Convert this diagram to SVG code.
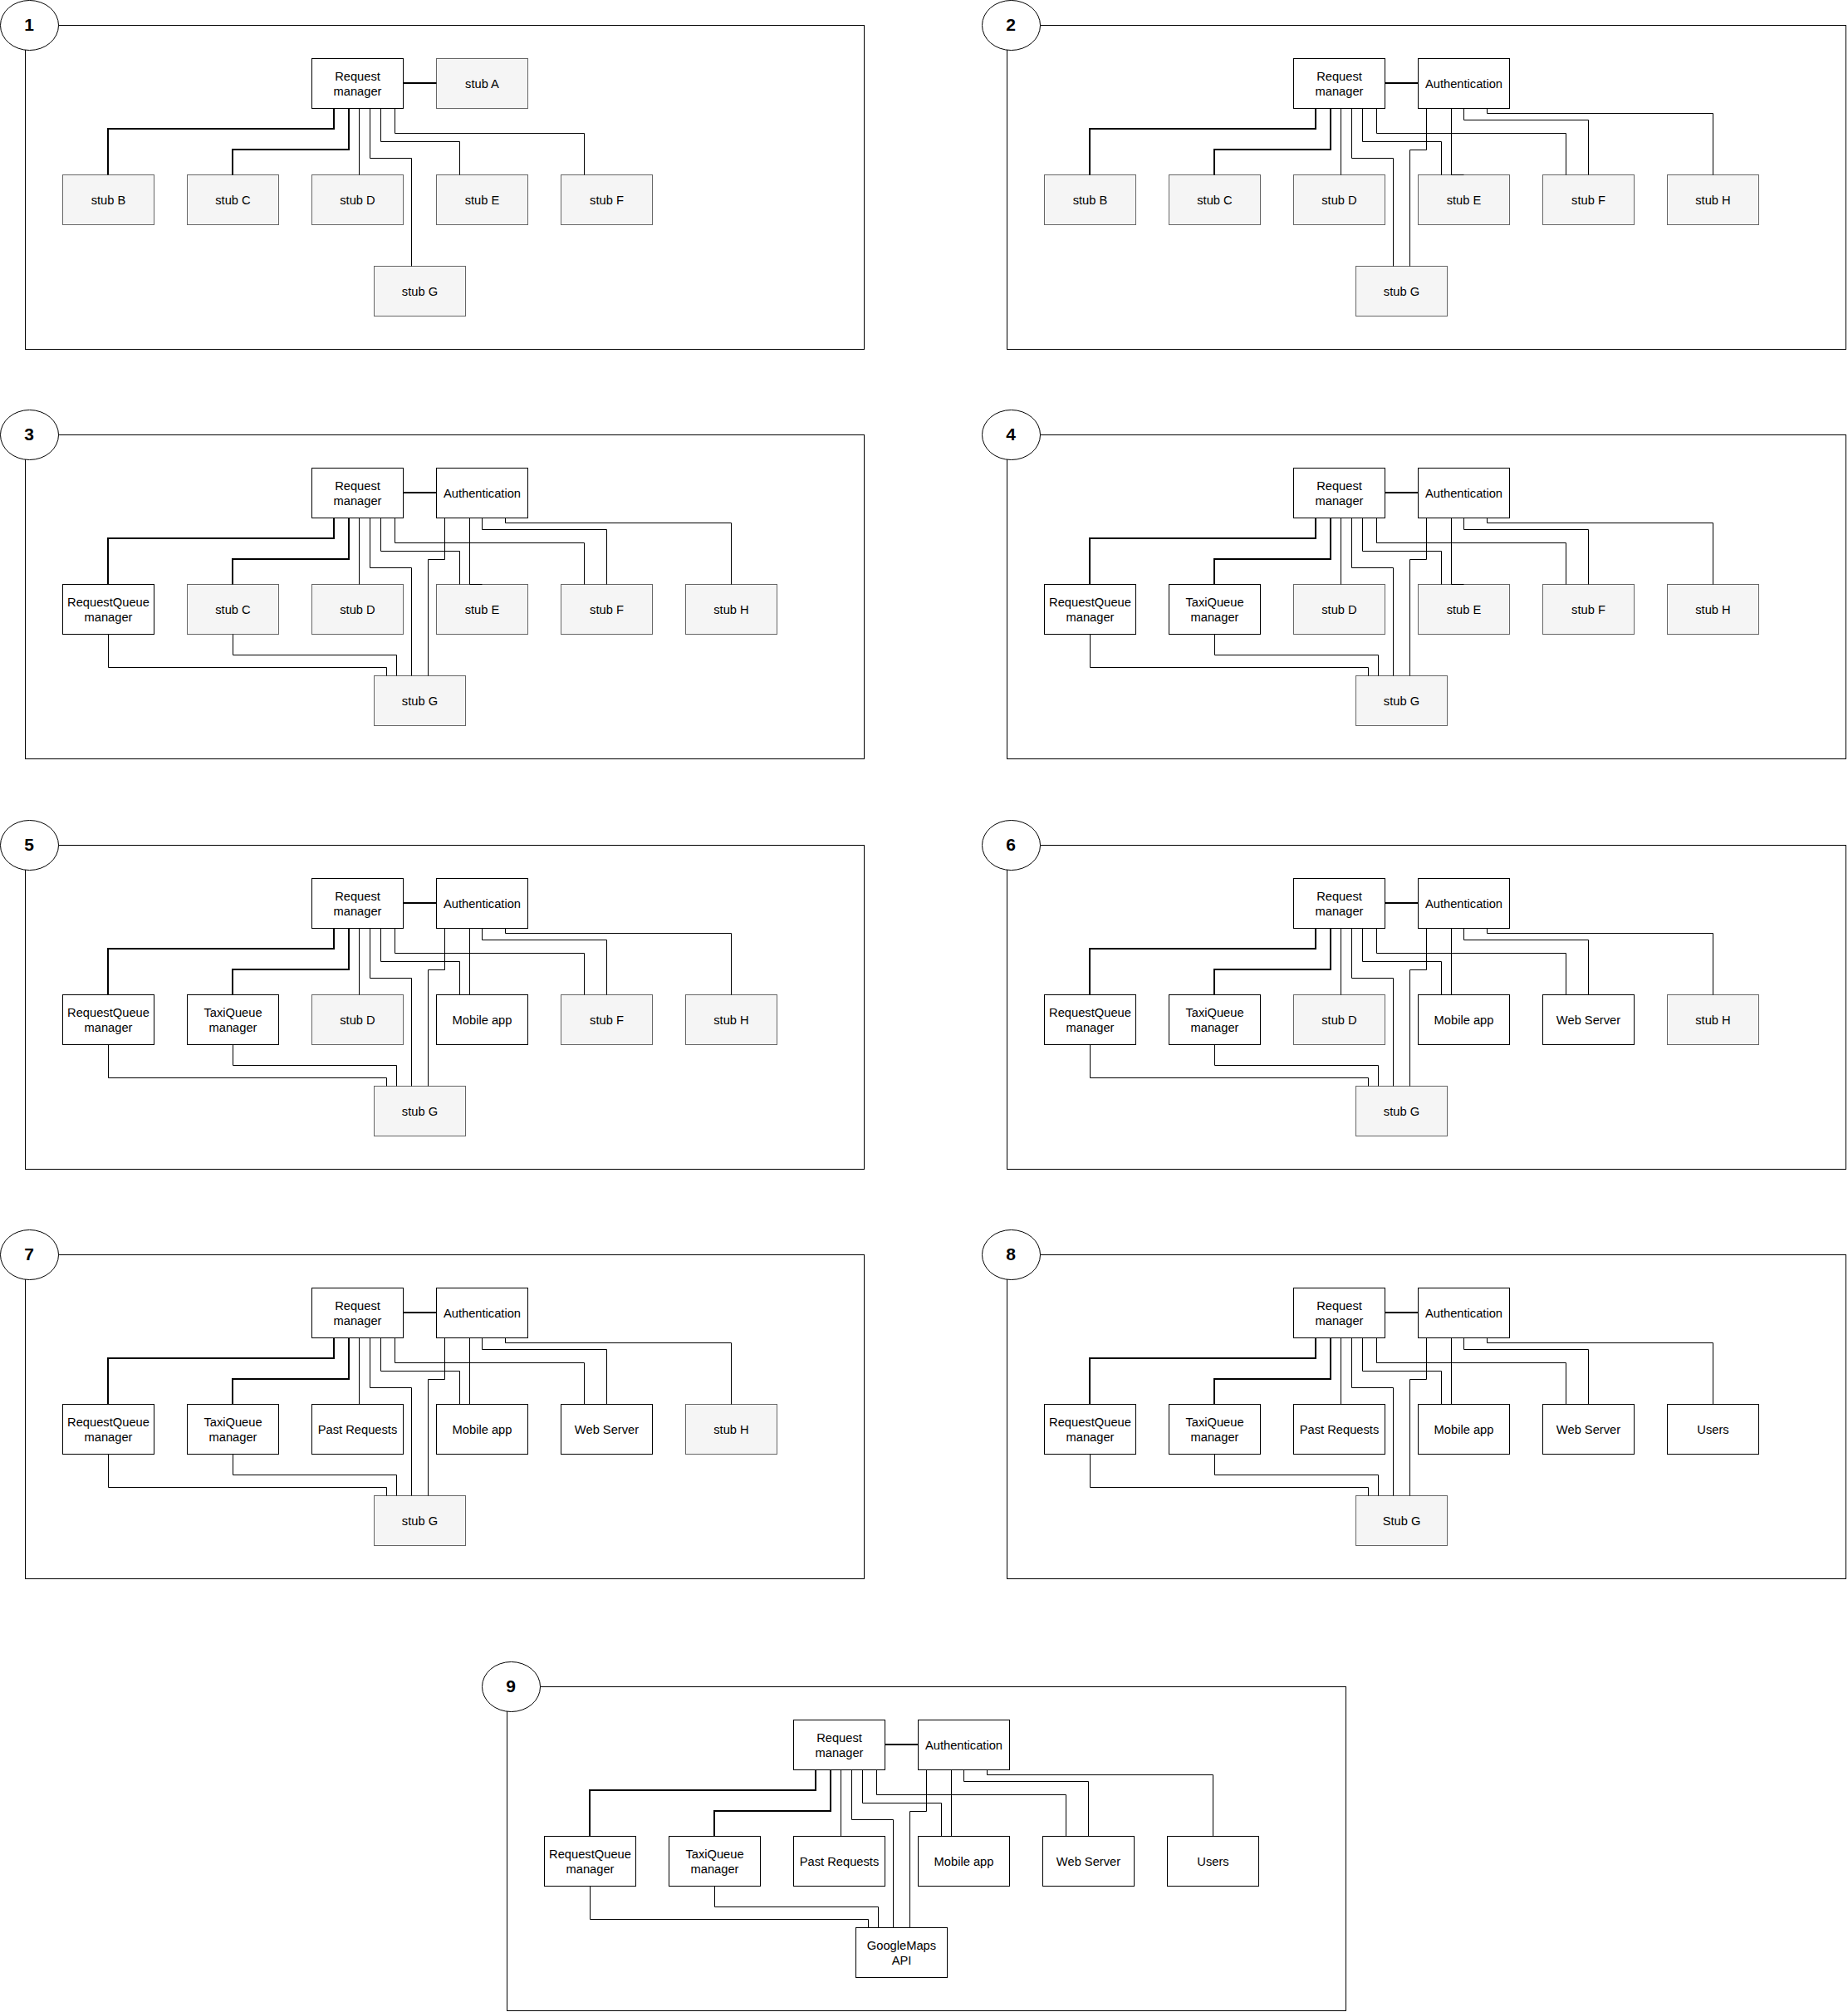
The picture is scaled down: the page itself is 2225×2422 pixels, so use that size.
<svg xmlns="http://www.w3.org/2000/svg" width="2225" height="2422" viewBox="0 0 2225 2422">
<style>
.bg{fill:#fff}
.frame{fill:none;stroke:#000;stroke-width:1}
.badge{fill:#fff;stroke:#000;stroke-width:1}
.badge-t{font-family:"Liberation Sans",Arial,sans-serif;font-weight:bold;font-size:21px;text-anchor:middle;fill:#000}
.n rect{fill:#fff;stroke:#000;stroke-width:1}
.s rect{fill:#f5f5f5;stroke:#666;stroke-width:1}
.n text,.s text{font-family:"Liberation Sans",Arial,sans-serif;font-size:14.7px;text-anchor:middle;fill:#000}
.c path{fill:none;stroke:#000;stroke-width:1}
.c path.k{stroke-width:2}
</style>
<rect class="bg" x="0" y="0" width="2225" height="2422"/>

<!-- Panel 1 -->
<g id="panel1" transform="translate(0,0)">
  <rect class="frame" x="30.5" y="30.5" width="1010" height="390"/>
  <g id="p1-label"><ellipse class="badge" cx="35.5" cy="30.5" rx="35" ry="30"/><text class="badge-t" x="35" y="37">1</text></g>
  <g id="p1-rm" class="n"><rect x="375.5" y="70.5" width="110" height="60"/><text x="430.5" y="96.5">Request</text><text x="430.5" y="114.5">manager</text></g>
  <g id="p1-stubA" class="s"><rect x="525.5" y="70.5" width="110" height="60"/><text x="580.5" y="105.7">stub A</text></g>
  <g id="p1-stubB" class="s"><rect x="75.5" y="210.5" width="110" height="60"/><text x="130.5" y="245.7">stub B</text></g>
  <g id="p1-stubC" class="s"><rect x="225.5" y="210.5" width="110" height="60"/><text x="280.5" y="245.7">stub C</text></g>
  <g id="p1-stubD" class="s"><rect x="375.5" y="210.5" width="110" height="60"/><text x="430.5" y="245.7">stub D</text></g>
  <g id="p1-stubE" class="s"><rect x="525.5" y="210.5" width="110" height="60"/><text x="580.5" y="245.7">stub E</text></g>
  <g id="p1-stubF" class="s"><rect x="675.5" y="210.5" width="110" height="60"/><text x="730.5" y="245.7">stub F</text></g>
  <g id="p1-stubG" class="s"><rect x="450.5" y="320.5" width="110" height="60"/><text x="505.5" y="355.7">stub G</text></g>
  <g id="p1-connectors" class="c">
    <path class="k" d="M485.5,100 H525.5"/>
    <path class="k" d="M402,130.5 V155 H130 V210.5"/>
    <path class="k" d="M420,130.5 V180 H280 V210.5"/>
    <path d="M432.5,130.5 V210.5"/>
    <path d="M445.5,130.5 V190.5 H495.5 V320.5"/>
    <path d="M458.5,130.5 V170.5 H553.5 V210.5"/>
    <path d="M475.5,130.5 V160.5 H703.5 V210.5"/>
  </g>
</g>

<!-- Panel 2 -->
<g id="panel2" transform="translate(1182,0)">
  <rect class="frame" x="30.5" y="30.5" width="1010" height="390"/>
  <g id="p2-label"><ellipse class="badge" cx="35.5" cy="30.5" rx="35" ry="30"/><text class="badge-t" x="35" y="37">2</text></g>
  <g id="p2-rm" class="n"><rect x="375.5" y="70.5" width="110" height="60"/><text x="430.5" y="96.5">Request</text><text x="430.5" y="114.5">manager</text></g>
  <g id="p2-auth" class="n"><rect x="525.5" y="70.5" width="110" height="60"/><text x="580.5" y="105.7">Authentication</text></g>
  <g id="p2-stubB" class="s"><rect x="75.5" y="210.5" width="110" height="60"/><text x="130.5" y="245.7">stub B</text></g>
  <g id="p2-stubC" class="s"><rect x="225.5" y="210.5" width="110" height="60"/><text x="280.5" y="245.7">stub C</text></g>
  <g id="p2-stubD" class="s"><rect x="375.5" y="210.5" width="110" height="60"/><text x="430.5" y="245.7">stub D</text></g>
  <g id="p2-stubE" class="s"><rect x="525.5" y="210.5" width="110" height="60"/><text x="580.5" y="245.7">stub E</text></g>
  <g id="p2-stubF" class="s"><rect x="675.5" y="210.5" width="110" height="60"/><text x="730.5" y="245.7">stub F</text></g>
  <g id="p2-stubH" class="s"><rect x="825.5" y="210.5" width="110" height="60"/><text x="880.5" y="245.7">stub H</text></g>
  <g id="p2-stubG" class="s"><rect x="450.5" y="320.5" width="110" height="60"/><text x="505.5" y="355.7">stub G</text></g>
  <g id="p2-connectors" class="c">
    <path class="k" d="M485.5,100 H525.5"/>
    <path class="k" d="M402,130.5 V155 H130 V210.5"/>
    <path class="k" d="M420,130.5 V180 H280 V210.5"/>
    <path d="M432.5,130.5 V210.5"/>
    <path d="M445.5,130.5 V190.5 H495.5 V320.5"/>
    <path d="M458.5,130.5 V170.5 H553.5 V210.5"/>
    <path d="M475.5,130.5 V160.5 H703.5 V210.5"/>
    <path d="M535.5,130.5 V180.5 H515.5 V320.5"/>
    <path d="M565.5,130.5 V210.5 H580.5"/>
    <path d="M580.5,130.5 V144.5 H730.5 V210.5"/>
    <path d="M608.5,130.5 V136.5 H880.5 V210.5"/>
  </g>
</g>

<!-- Panel 3 -->
<g id="panel3" transform="translate(0,493)">
  <rect class="frame" x="30.5" y="30.5" width="1010" height="390"/>
  <g id="p3-label"><ellipse class="badge" cx="35.5" cy="30.5" rx="35" ry="30"/><text class="badge-t" x="35" y="37">3</text></g>
  <g id="p3-rm" class="n"><rect x="375.5" y="70.5" width="110" height="60"/><text x="430.5" y="96.5">Request</text><text x="430.5" y="114.5">manager</text></g>
  <g id="p3-auth" class="n"><rect x="525.5" y="70.5" width="110" height="60"/><text x="580.5" y="105.7">Authentication</text></g>
  <g id="p3-rqm" class="n"><rect x="75.5" y="210.5" width="110" height="60"/><text x="130.5" y="236.5">RequestQueue</text><text x="130.5" y="254.5">manager</text></g>
  <g id="p3-stubC" class="s"><rect x="225.5" y="210.5" width="110" height="60"/><text x="280.5" y="245.7">stub C</text></g>
  <g id="p3-stubD" class="s"><rect x="375.5" y="210.5" width="110" height="60"/><text x="430.5" y="245.7">stub D</text></g>
  <g id="p3-stubE" class="s"><rect x="525.5" y="210.5" width="110" height="60"/><text x="580.5" y="245.7">stub E</text></g>
  <g id="p3-stubF" class="s"><rect x="675.5" y="210.5" width="110" height="60"/><text x="730.5" y="245.7">stub F</text></g>
  <g id="p3-stubH" class="s"><rect x="825.5" y="210.5" width="110" height="60"/><text x="880.5" y="245.7">stub H</text></g>
  <g id="p3-stubG" class="s"><rect x="450.5" y="320.5" width="110" height="60"/><text x="505.5" y="355.7">stub G</text></g>
  <g id="p3-connectors" class="c">
    <path class="k" d="M485.5,100 H525.5"/>
    <path class="k" d="M402,130.5 V155 H130 V210.5"/>
    <path class="k" d="M420,130.5 V180 H280 V210.5"/>
    <path d="M432.5,130.5 V210.5"/>
    <path d="M445.5,130.5 V190.5 H495.5 V320.5"/>
    <path d="M458.5,130.5 V170.5 H553.5 V210.5"/>
    <path d="M475.5,130.5 V160.5 H703.5 V210.5"/>
    <path d="M535.5,130.5 V180.5 H515.5 V320.5"/>
    <path d="M565.5,130.5 V210.5 H580.5"/>
    <path d="M580.5,130.5 V144.5 H730.5 V210.5"/>
    <path d="M608.5,130.5 V136.5 H880.5 V210.5"/>
    <path d="M130.5,270.5 V310.5 H465.5 V320.5"/>
    <path d="M280.5,270.5 V295.5 H477.5 V320.5"/>
  </g>
</g>

<!-- Panel 4 -->
<g id="panel4" transform="translate(1182,493)">
  <rect class="frame" x="30.5" y="30.5" width="1010" height="390"/>
  <g id="p4-label"><ellipse class="badge" cx="35.5" cy="30.5" rx="35" ry="30"/><text class="badge-t" x="35" y="37">4</text></g>
  <g id="p4-rm" class="n"><rect x="375.5" y="70.5" width="110" height="60"/><text x="430.5" y="96.5">Request</text><text x="430.5" y="114.5">manager</text></g>
  <g id="p4-auth" class="n"><rect x="525.5" y="70.5" width="110" height="60"/><text x="580.5" y="105.7">Authentication</text></g>
  <g id="p4-rqm" class="n"><rect x="75.5" y="210.5" width="110" height="60"/><text x="130.5" y="236.5">RequestQueue</text><text x="130.5" y="254.5">manager</text></g>
  <g id="p4-tqm" class="n"><rect x="225.5" y="210.5" width="110" height="60"/><text x="280.5" y="236.5">TaxiQueue</text><text x="280.5" y="254.5">manager</text></g>
  <g id="p4-stubD" class="s"><rect x="375.5" y="210.5" width="110" height="60"/><text x="430.5" y="245.7">stub D</text></g>
  <g id="p4-stubE" class="s"><rect x="525.5" y="210.5" width="110" height="60"/><text x="580.5" y="245.7">stub E</text></g>
  <g id="p4-stubF" class="s"><rect x="675.5" y="210.5" width="110" height="60"/><text x="730.5" y="245.7">stub F</text></g>
  <g id="p4-stubH" class="s"><rect x="825.5" y="210.5" width="110" height="60"/><text x="880.5" y="245.7">stub H</text></g>
  <g id="p4-stubG" class="s"><rect x="450.5" y="320.5" width="110" height="60"/><text x="505.5" y="355.7">stub G</text></g>
  <g id="p4-connectors" class="c">
    <path class="k" d="M485.5,100 H525.5"/>
    <path class="k" d="M402,130.5 V155 H130 V210.5"/>
    <path class="k" d="M420,130.5 V180 H280 V210.5"/>
    <path d="M432.5,130.5 V210.5"/>
    <path d="M445.5,130.5 V190.5 H495.5 V320.5"/>
    <path d="M458.5,130.5 V170.5 H553.5 V210.5"/>
    <path d="M475.5,130.5 V160.5 H703.5 V210.5"/>
    <path d="M535.5,130.5 V180.5 H515.5 V320.5"/>
    <path d="M565.5,130.5 V210.5 H580.5"/>
    <path d="M580.5,130.5 V144.5 H730.5 V210.5"/>
    <path d="M608.5,130.5 V136.5 H880.5 V210.5"/>
    <path d="M130.5,270.5 V310.5 H465.5 V320.5"/>
    <path d="M280.5,270.5 V295.5 H477.5 V320.5"/>
  </g>
</g>

<!-- Panel 5 -->
<g id="panel5" transform="translate(0,987)">
  <rect class="frame" x="30.5" y="30.5" width="1010" height="390"/>
  <g id="p5-label"><ellipse class="badge" cx="35.5" cy="30.5" rx="35" ry="30"/><text class="badge-t" x="35" y="37">5</text></g>
  <g id="p5-rm" class="n"><rect x="375.5" y="70.5" width="110" height="60"/><text x="430.5" y="96.5">Request</text><text x="430.5" y="114.5">manager</text></g>
  <g id="p5-auth" class="n"><rect x="525.5" y="70.5" width="110" height="60"/><text x="580.5" y="105.7">Authentication</text></g>
  <g id="p5-rqm" class="n"><rect x="75.5" y="210.5" width="110" height="60"/><text x="130.5" y="236.5">RequestQueue</text><text x="130.5" y="254.5">manager</text></g>
  <g id="p5-tqm" class="n"><rect x="225.5" y="210.5" width="110" height="60"/><text x="280.5" y="236.5">TaxiQueue</text><text x="280.5" y="254.5">manager</text></g>
  <g id="p5-stubD" class="s"><rect x="375.5" y="210.5" width="110" height="60"/><text x="430.5" y="245.7">stub D</text></g>
  <g id="p5-mobile" class="n"><rect x="525.5" y="210.5" width="110" height="60"/><text x="580.5" y="245.7">Mobile app</text></g>
  <g id="p5-stubF" class="s"><rect x="675.5" y="210.5" width="110" height="60"/><text x="730.5" y="245.7">stub F</text></g>
  <g id="p5-stubH" class="s"><rect x="825.5" y="210.5" width="110" height="60"/><text x="880.5" y="245.7">stub H</text></g>
  <g id="p5-stubG" class="s"><rect x="450.5" y="320.5" width="110" height="60"/><text x="505.5" y="355.7">stub G</text></g>
  <g id="p5-connectors" class="c">
    <path class="k" d="M485.5,100 H525.5"/>
    <path class="k" d="M402,130.5 V155 H130 V210.5"/>
    <path class="k" d="M420,130.5 V180 H280 V210.5"/>
    <path d="M432.5,130.5 V210.5"/>
    <path d="M445.5,130.5 V190.5 H495.5 V320.5"/>
    <path d="M458.5,130.5 V170.5 H553.5 V210.5"/>
    <path d="M475.5,130.5 V160.5 H703.5 V210.5"/>
    <path d="M535.5,130.5 V180.5 H515.5 V320.5"/>
    <path d="M565.5,130.5 V210.5 H580.5"/>
    <path d="M580.5,130.5 V144.5 H730.5 V210.5"/>
    <path d="M608.5,130.5 V136.5 H880.5 V210.5"/>
    <path d="M130.5,270.5 V310.5 H465.5 V320.5"/>
    <path d="M280.5,270.5 V295.5 H477.5 V320.5"/>
  </g>
</g>

<!-- Panel 6 -->
<g id="panel6" transform="translate(1182,987)">
  <rect class="frame" x="30.5" y="30.5" width="1010" height="390"/>
  <g id="p6-label"><ellipse class="badge" cx="35.5" cy="30.5" rx="35" ry="30"/><text class="badge-t" x="35" y="37">6</text></g>
  <g id="p6-rm" class="n"><rect x="375.5" y="70.5" width="110" height="60"/><text x="430.5" y="96.5">Request</text><text x="430.5" y="114.5">manager</text></g>
  <g id="p6-auth" class="n"><rect x="525.5" y="70.5" width="110" height="60"/><text x="580.5" y="105.7">Authentication</text></g>
  <g id="p6-rqm" class="n"><rect x="75.5" y="210.5" width="110" height="60"/><text x="130.5" y="236.5">RequestQueue</text><text x="130.5" y="254.5">manager</text></g>
  <g id="p6-tqm" class="n"><rect x="225.5" y="210.5" width="110" height="60"/><text x="280.5" y="236.5">TaxiQueue</text><text x="280.5" y="254.5">manager</text></g>
  <g id="p6-stubD" class="s"><rect x="375.5" y="210.5" width="110" height="60"/><text x="430.5" y="245.7">stub D</text></g>
  <g id="p6-mobile" class="n"><rect x="525.5" y="210.5" width="110" height="60"/><text x="580.5" y="245.7">Mobile app</text></g>
  <g id="p6-web" class="n"><rect x="675.5" y="210.5" width="110" height="60"/><text x="730.5" y="245.7">Web Server</text></g>
  <g id="p6-stubH" class="s"><rect x="825.5" y="210.5" width="110" height="60"/><text x="880.5" y="245.7">stub H</text></g>
  <g id="p6-stubG" class="s"><rect x="450.5" y="320.5" width="110" height="60"/><text x="505.5" y="355.7">stub G</text></g>
  <g id="p6-connectors" class="c">
    <path class="k" d="M485.5,100 H525.5"/>
    <path class="k" d="M402,130.5 V155 H130 V210.5"/>
    <path class="k" d="M420,130.5 V180 H280 V210.5"/>
    <path d="M432.5,130.5 V210.5"/>
    <path d="M445.5,130.5 V190.5 H495.5 V320.5"/>
    <path d="M458.5,130.5 V170.5 H553.5 V210.5"/>
    <path d="M475.5,130.5 V160.5 H703.5 V210.5"/>
    <path d="M535.5,130.5 V180.5 H515.5 V320.5"/>
    <path d="M565.5,130.5 V210.5 H580.5"/>
    <path d="M580.5,130.5 V144.5 H730.5 V210.5"/>
    <path d="M608.5,130.5 V136.5 H880.5 V210.5"/>
    <path d="M130.5,270.5 V310.5 H465.5 V320.5"/>
    <path d="M280.5,270.5 V295.5 H477.5 V320.5"/>
  </g>
</g>

<!-- Panel 7 -->
<g id="panel7" transform="translate(0,1480)">
  <rect class="frame" x="30.5" y="30.5" width="1010" height="390"/>
  <g id="p7-label"><ellipse class="badge" cx="35.5" cy="30.5" rx="35" ry="30"/><text class="badge-t" x="35" y="37">7</text></g>
  <g id="p7-rm" class="n"><rect x="375.5" y="70.5" width="110" height="60"/><text x="430.5" y="96.5">Request</text><text x="430.5" y="114.5">manager</text></g>
  <g id="p7-auth" class="n"><rect x="525.5" y="70.5" width="110" height="60"/><text x="580.5" y="105.7">Authentication</text></g>
  <g id="p7-rqm" class="n"><rect x="75.5" y="210.5" width="110" height="60"/><text x="130.5" y="236.5">RequestQueue</text><text x="130.5" y="254.5">manager</text></g>
  <g id="p7-tqm" class="n"><rect x="225.5" y="210.5" width="110" height="60"/><text x="280.5" y="236.5">TaxiQueue</text><text x="280.5" y="254.5">manager</text></g>
  <g id="p7-past" class="n"><rect x="375.5" y="210.5" width="110" height="60"/><text x="430.5" y="245.7">Past Requests</text></g>
  <g id="p7-mobile" class="n"><rect x="525.5" y="210.5" width="110" height="60"/><text x="580.5" y="245.7">Mobile app</text></g>
  <g id="p7-web" class="n"><rect x="675.5" y="210.5" width="110" height="60"/><text x="730.5" y="245.7">Web Server</text></g>
  <g id="p7-stubH" class="s"><rect x="825.5" y="210.5" width="110" height="60"/><text x="880.5" y="245.7">stub H</text></g>
  <g id="p7-stubG" class="s"><rect x="450.5" y="320.5" width="110" height="60"/><text x="505.5" y="355.7">stub G</text></g>
  <g id="p7-connectors" class="c">
    <path class="k" d="M485.5,100 H525.5"/>
    <path class="k" d="M402,130.5 V155 H130 V210.5"/>
    <path class="k" d="M420,130.5 V180 H280 V210.5"/>
    <path d="M432.5,130.5 V210.5"/>
    <path d="M445.5,130.5 V190.5 H495.5 V320.5"/>
    <path d="M458.5,130.5 V170.5 H553.5 V210.5"/>
    <path d="M475.5,130.5 V160.5 H703.5 V210.5"/>
    <path d="M535.5,130.5 V180.5 H515.5 V320.5"/>
    <path d="M565.5,130.5 V210.5 H580.5"/>
    <path d="M580.5,130.5 V144.5 H730.5 V210.5"/>
    <path d="M608.5,130.5 V136.5 H880.5 V210.5"/>
    <path d="M130.5,270.5 V310.5 H465.5 V320.5"/>
    <path d="M280.5,270.5 V295.5 H477.5 V320.5"/>
  </g>
</g>

<!-- Panel 8 -->
<g id="panel8" transform="translate(1182,1480)">
  <rect class="frame" x="30.5" y="30.5" width="1010" height="390"/>
  <g id="p8-label"><ellipse class="badge" cx="35.5" cy="30.5" rx="35" ry="30"/><text class="badge-t" x="35" y="37">8</text></g>
  <g id="p8-rm" class="n"><rect x="375.5" y="70.5" width="110" height="60"/><text x="430.5" y="96.5">Request</text><text x="430.5" y="114.5">manager</text></g>
  <g id="p8-auth" class="n"><rect x="525.5" y="70.5" width="110" height="60"/><text x="580.5" y="105.7">Authentication</text></g>
  <g id="p8-rqm" class="n"><rect x="75.5" y="210.5" width="110" height="60"/><text x="130.5" y="236.5">RequestQueue</text><text x="130.5" y="254.5">manager</text></g>
  <g id="p8-tqm" class="n"><rect x="225.5" y="210.5" width="110" height="60"/><text x="280.5" y="236.5">TaxiQueue</text><text x="280.5" y="254.5">manager</text></g>
  <g id="p8-past" class="n"><rect x="375.5" y="210.5" width="110" height="60"/><text x="430.5" y="245.7">Past Requests</text></g>
  <g id="p8-mobile" class="n"><rect x="525.5" y="210.5" width="110" height="60"/><text x="580.5" y="245.7">Mobile app</text></g>
  <g id="p8-web" class="n"><rect x="675.5" y="210.5" width="110" height="60"/><text x="730.5" y="245.7">Web Server</text></g>
  <g id="p8-users" class="n"><rect x="825.5" y="210.5" width="110" height="60"/><text x="880.5" y="245.7">Users</text></g>
  <g id="p8-stubG" class="s"><rect x="450.5" y="320.5" width="110" height="60"/><text x="505.5" y="355.7">Stub G</text></g>
  <g id="p8-connectors" class="c">
    <path class="k" d="M485.5,100 H525.5"/>
    <path class="k" d="M402,130.5 V155 H130 V210.5"/>
    <path class="k" d="M420,130.5 V180 H280 V210.5"/>
    <path d="M432.5,130.5 V210.5"/>
    <path d="M445.5,130.5 V190.5 H495.5 V320.5"/>
    <path d="M458.5,130.5 V170.5 H553.5 V210.5"/>
    <path d="M475.5,130.5 V160.5 H703.5 V210.5"/>
    <path d="M535.5,130.5 V180.5 H515.5 V320.5"/>
    <path d="M565.5,130.5 V210.5 H580.5"/>
    <path d="M580.5,130.5 V144.5 H730.5 V210.5"/>
    <path d="M608.5,130.5 V136.5 H880.5 V210.5"/>
    <path d="M130.5,270.5 V310.5 H465.5 V320.5"/>
    <path d="M280.5,270.5 V295.5 H477.5 V320.5"/>
  </g>
</g>

<!-- Panel 9 -->
<g id="panel9" transform="translate(580,2000)">
  <rect class="frame" x="30.5" y="30.5" width="1010" height="390"/>
  <g id="p9-label"><ellipse class="badge" cx="35.5" cy="30.5" rx="35" ry="30"/><text class="badge-t" x="35" y="37">9</text></g>
  <g id="p9-rm" class="n"><rect x="375.5" y="70.5" width="110" height="60"/><text x="430.5" y="96.5">Request</text><text x="430.5" y="114.5">manager</text></g>
  <g id="p9-auth" class="n"><rect x="525.5" y="70.5" width="110" height="60"/><text x="580.5" y="105.7">Authentication</text></g>
  <g id="p9-rqm" class="n"><rect x="75.5" y="210.5" width="110" height="60"/><text x="130.5" y="236.5">RequestQueue</text><text x="130.5" y="254.5">manager</text></g>
  <g id="p9-tqm" class="n"><rect x="225.5" y="210.5" width="110" height="60"/><text x="280.5" y="236.5">TaxiQueue</text><text x="280.5" y="254.5">manager</text></g>
  <g id="p9-past" class="n"><rect x="375.5" y="210.5" width="110" height="60"/><text x="430.5" y="245.7">Past Requests</text></g>
  <g id="p9-mobile" class="n"><rect x="525.5" y="210.5" width="110" height="60"/><text x="580.5" y="245.7">Mobile app</text></g>
  <g id="p9-web" class="n"><rect x="675.5" y="210.5" width="110" height="60"/><text x="730.5" y="245.7">Web Server</text></g>
  <g id="p9-users" class="n"><rect x="825.5" y="210.5" width="110" height="60"/><text x="880.5" y="245.7">Users</text></g>
  <g id="p9-gmaps" class="n"><rect x="450.5" y="320.5" width="110" height="60"/><text x="505.5" y="346.5">GoogleMaps</text><text x="505.5" y="364.5">API</text></g>
  <g id="p9-connectors" class="c">
    <path class="k" d="M485.5,100 H525.5"/>
    <path class="k" d="M402,130.5 V155 H130 V210.5"/>
    <path class="k" d="M420,130.5 V180 H280 V210.5"/>
    <path d="M432.5,130.5 V210.5"/>
    <path d="M445.5,130.5 V190.5 H495.5 V320.5"/>
    <path d="M458.5,130.5 V170.5 H553.5 V210.5"/>
    <path d="M475.5,130.5 V160.5 H703.5 V210.5"/>
    <path d="M535.5,130.5 V180.5 H515.5 V320.5"/>
    <path d="M565.5,130.5 V210.5 H580.5"/>
    <path d="M580.5,130.5 V144.5 H730.5 V210.5"/>
    <path d="M608.5,130.5 V136.5 H880.5 V210.5"/>
    <path d="M130.5,270.5 V310.5 H465.5 V320.5"/>
    <path d="M280.5,270.5 V295.5 H477.5 V320.5"/>
  </g>
</g>
</svg>
